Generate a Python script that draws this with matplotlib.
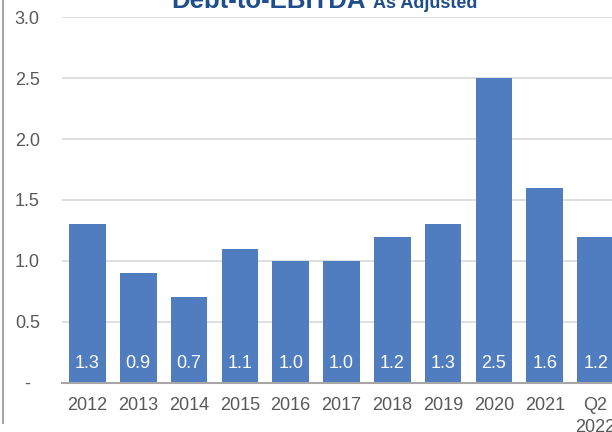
import matplotlib.pyplot as plt
from matplotlib.lines import Line2D

# data
years = ["2012", "2013", "2014", "2015", "2016", "2017", "2018", "2019", "2020", "2021", "Q2\n2022"]
ratio = [1.3, 0.9, 0.7, 1.1, 1.0, 1.0, 1.2, 1.3, 2.5, 1.6, 1.2]
y_ticks = [0, 0.5, 1.0, 1.5, 2.0, 2.5, 3.0]
y_labels = ["-", "0.5", "1.0", "1.5", "2.0", "2.5", "3.0"]

plt.rcParams["font.family"] = ["Liberation Sans", "DejaVu Sans"]

W, H = 612, 432
fig = plt.figure(figsize=(W / 100, H / 100), dpi=100)
left, right = 62 / W, 621 / W
bottom, top = (H - 382.7) / H, (H - 17.3) / H
ax = fig.add_axes([left, bottom, right - left, top - bottom])

x = range(len(years))
bars = ax.bar(x, ratio, width=0.72, color="#4F7DBF", zorder=3)

for xi, v in zip(x, ratio):
    ax.annotate(f"{v:.1f}", (xi, 0), xytext=(0, 13.5), textcoords="offset points",
                ha="center", va="center", color="white", fontsize=13, zorder=4)

ax.set_xlim(-0.5, len(years) - 0.5)
ax.set_ylim(0, 3.0)
ax.set_yticks(y_ticks)
ax.set_yticklabels(y_labels)
ax.set_xticks(list(x))
ax.set_xticklabels(years, linespacing=1.4)
for lab in ax.get_yticklabels():
    lab.set_ha("center")
ax.tick_params(axis="y", length=0, pad=25, labelsize=13, labelcolor="#595959")
ax.tick_params(axis="x", length=0, pad=10, labelsize=13, labelcolor="#595959")

ax.grid(axis="y", color="#D9D9D9", linewidth=1.2, zorder=0)
for s in ["top", "right", "left"]:
    ax.spines[s].set_visible(False)
ax.spines["bottom"].set_color("#A6A6A6")
ax.spines["bottom"].set_linewidth(1.5)
ax.spines["bottom"].set_zorder(5)

# title, cut at the top
ty = 1 - 7.5 / H
fig.text(366 / W, ty, "Debt-to-EBITDA", ha="right", va="baseline",
         fontsize=18.5, fontweight="bold", color="#1F4E8C")
fig.text(373 / W, ty, "As Adjusted", ha="left", va="baseline",
         fontsize=13, fontweight="bold", color="#1F4E8C")

# slide border on the left
fig.add_artist(Line2D([3.3 / W, 3.3 / W], [(H - 423) / H, 1], color="#A6A6A6", linewidth=1.5))

fig.savefig("out.png", dpi=100)
